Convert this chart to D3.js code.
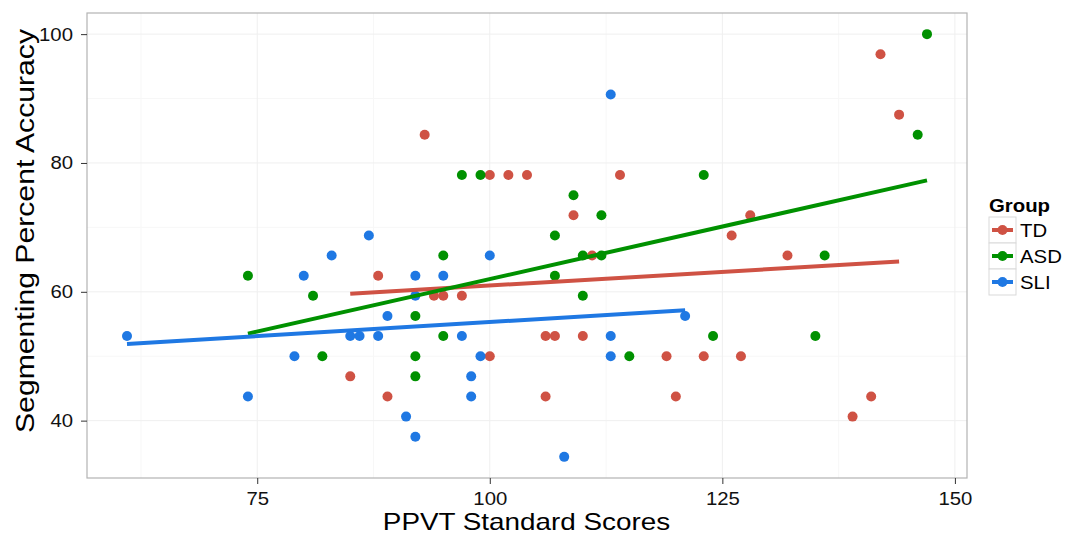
<!DOCTYPE html>
<html><head><meta charset="utf-8">
<script src="https://cdn.jsdelivr.net/npm/d3@7"></script>
<style>body{margin:0;background:#fff}svg{display:block;font-family:"Liberation Sans",Arial,sans-serif}</style>
</head><body><svg id="c" width="1066" height="535"></svg>
<script>
const groups = ["TD","ASD","SLI"];
const groupColors = ["#CF5244","#009100","#1F78E3"];
const tdX = [93,100,102,104,114,109,142,144,128,126,88,85,89,94,95,97,106,107,110,100,119,106,120,111,132,123,127,141,139];
const tdY = [84.375,78.125,78.125,78.125,78.125,71.875,96.875,87.5,71.875,68.75,62.5,46.875,43.75,59.375,59.375,59.375,53.125,53.125,53.125,50,50,43.75,43.75,65.625,65.625,50,50,43.75,40.625];
const asdX = [97,99,109,112,107,147,146,123,74,81,82,95,110,112,107,110,92,95,92,92,115,136,124,135];
const asdY = [78.125,78.125,75,71.875,68.75,100,84.375,78.125,62.5,59.375,50,65.625,65.625,65.625,62.5,59.375,56.25,53.125,50,46.875,50,65.625,53.125,53.125];
const sliX = [87,113,83,80,61,85,86,88,79,74,100,92,95,92,89,97,113,99,113,98,98,91,92,108,121];
const sliY = [68.75,90.625,65.625,62.5,53.125,53.125,53.125,53.125,50,43.75,65.625,62.5,62.5,59.375,56.25,53.125,53.125,50,50,46.875,43.75,40.625,37.5,34.375,56.25];
// fitted trend lines (start x, start y, end x, end y)
const trendX0 = [85,74,61];
const trendY0 = [59.7,53.5,51.9];
const trendX1 = [144,147,121];
const trendY1 = [64.7,77.3,57.15];
const xTicks = [75,100,125,150];
const yTicks = [40,60,80,100];
const xMinor = [62.5,87.5,112.5,137.5];
const yMinor = [50,70,90];

const svg = d3.select("#c");
const L=87, R=967, T=13, B=478;
const x = d3.scaleLinear().domain([56.7,151.3]).range([L,R]);
const y = d3.scaleLinear().domain([31.094,103.281]).range([B,T]);

const grid = svg.append("g");
grid.selectAll(".vm").data(xMinor).join("line").attr("x1",d=>x(d)).attr("x2",d=>x(d)).attr("y1",T).attr("y2",B).attr("stroke","#f7f7f7").attr("stroke-width",1);
grid.selectAll(".hm").data(yMinor).join("line").attr("y1",d=>y(d)).attr("y2",d=>y(d)).attr("x1",L).attr("x2",R).attr("stroke","#f7f7f7").attr("stroke-width",1);
grid.selectAll(".vM").data(xTicks).join("line").attr("x1",d=>x(d)).attr("x2",d=>x(d)).attr("y1",T).attr("y2",B).attr("stroke","#efefef").attr("stroke-width",1);
grid.selectAll(".hM").data(yTicks).join("line").attr("y1",d=>y(d)).attr("y2",d=>y(d)).attr("x1",L).attr("x2",R).attr("stroke","#efefef").attr("stroke-width",1);

const xs=[tdX,asdX,sliX], ys=[tdY,asdY,sliY];
groups.forEach((g,i)=>{
  svg.append("g").selectAll("circle").data(xs[i].map((v,j)=>[v,ys[i][j]])).join("circle")
    .attr("cx",d=>x(d[0])).attr("cy",d=>y(d[1])).attr("r",5).attr("fill",groupColors[i]);
});
groups.forEach((g,i)=>{
  svg.append("line").attr("x1",x(trendX0[i])).attr("y1",y(trendY0[i])).attr("x2",x(trendX1[i])).attr("y2",y(trendY1[i]))
    .attr("stroke",groupColors[i]).attr("stroke-width",4);
});

svg.append("rect").attr("x",L).attr("y",T).attr("width",R-L).attr("height",B-T).attr("fill","none").attr("stroke","#b3b3b3").attr("stroke-width",1.2);

const xa = svg.append("g").attr("transform",`translate(0,${B})`).call(d3.axisBottom(x).tickValues(xTicks).tickSize(6).tickPadding(8));
const ya = svg.append("g").attr("transform",`translate(${L},0)`).call(d3.axisLeft(y).tickValues(yTicks).tickSize(6).tickPadding(8));
[xa,ya].forEach(a=>{a.select(".domain").remove();a.selectAll("line").attr("stroke","#333");a.selectAll("text").attr("font-size",18.5).attr("fill","#111").attr("font-family","Liberation Sans, Arial, sans-serif");});

svg.append("text").attr("x",526.5).attr("y",530).attr("text-anchor","middle").attr("font-size",24).attr("fill","#000").attr("class","wide").text("PPVT Standard Scores");
svg.append("text").attr("transform",`translate(34,231) rotate(-90)`).attr("text-anchor","middle").attr("font-size",26).attr("fill","#000").attr("class","wide").text("Segmenting Percent Accuracy");

const lg = svg.append("g");
lg.append("text").attr("x",989).attr("y",212).attr("font-size",18.5).attr("font-weight","bold").text("Group");
groups.forEach((g,i)=>{
  const yy=217+i*26;
  lg.append("rect").attr("x",989).attr("y",yy).attr("width",27).attr("height",26).attr("fill","#fff").attr("stroke","#d9d9d9");
  lg.append("line").attr("x1",992).attr("x2",1013).attr("y1",yy+13).attr("y2",yy+13).attr("stroke",groupColors[i]).attr("stroke-width",4);
  lg.append("circle").attr("cx",1002.5).attr("cy",yy+13).attr("r",5).attr("fill",groupColors[i]);
  lg.append("text").attr("x",1020).attr("y",yy+19.5).attr("font-size",18.5).text(g);
});
// reference glyphs are set a little wider than Liberation Sans
svg.selectAll("text").each(function(){
  const w=this.getComputedTextLength();
  const f = this.classList.contains("wide") ? 1.16 : 1.1;
  d3.select(this).attr("textLength",w*f).attr("lengthAdjust","spacingAndGlyphs");
});
</script></body></html>
